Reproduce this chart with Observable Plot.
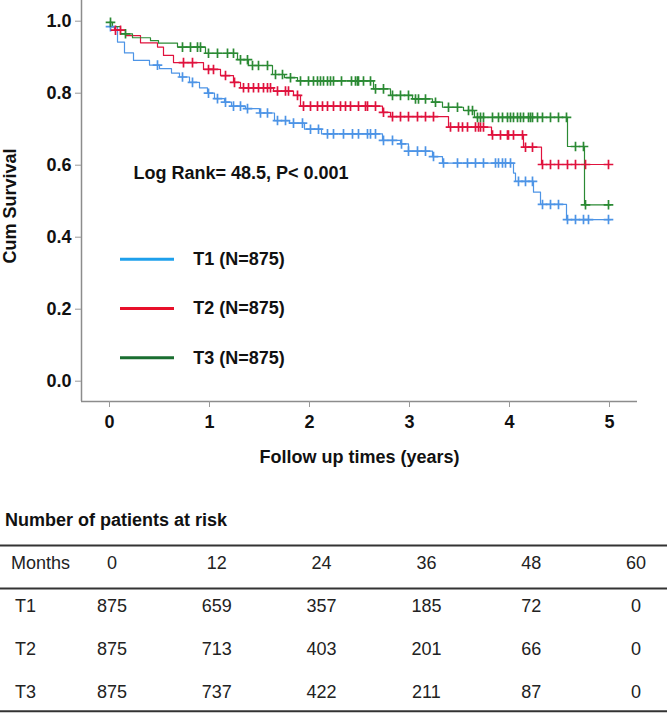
<!DOCTYPE html>
<html><head><meta charset="utf-8">
<script src="https://cdn.jsdelivr.net/npm/d3@7"></script>
<script src="https://cdn.jsdelivr.net/npm/@observablehq/plot@0.6"></script>
<style>
body{margin:0;background:#fff;font-family:"Liberation Sans",Arial,sans-serif;}
#chart svg,#table svg{display:block;}
</style></head><body>
<div id="chart"></div><div id="table"></div>
<script>
// ---------- data ----------
const groups = ["T1", "T2", "T3"];
const groupLabels = ["T1 (N=875)", "T2 (N=875)", "T3 (N=875)"];
const lineColors = ["#4d94e6", "#e0123d", "#2b8a34"];
const legendColors = ["#1ea0ec", "#e8102a", "#1a6e30"];

const endTime = 5.01;

const t1Times = [0, 0.08, 0.15, 0.24, 0.40, 0.50, 0.62, 0.70, 0.80, 0.90, 0.98, 1.05, 1.15, 1.22, 1.36, 1.50, 1.65, 1.80, 1.95, 2.12, 2.73, 2.91, 2.99, 3.23, 3.33, 4.04, 4.06, 4.24, 4.31, 4.57];
const t1Surv  = [0.985, 0.942, 0.912, 0.891, 0.878, 0.868, 0.856, 0.845, 0.830, 0.815, 0.800, 0.785, 0.775, 0.764, 0.757, 0.745, 0.724, 0.717, 0.700, 0.687, 0.669, 0.659, 0.639, 0.624, 0.606, 0.578, 0.555, 0.525, 0.491, 0.449];
const t1Censor = [0.01, 0.48, 0.73, 0.83, 0.99, 1.08, 1.16, 1.24, 1.31, 1.38, 1.51, 1.58, 1.68, 1.76, 1.84, 1.93, 2.01, 2.09, 2.18, 2.24, 2.34, 2.43, 2.49, 2.58, 2.61, 2.66, 2.74, 2.83, 2.92, 2.99, 3.08, 3.16, 3.24, 3.34, 3.48, 3.58, 3.66, 3.74, 3.86, 3.89, 3.93, 3.96, 4.01, 4.09, 4.16, 4.23, 4.33, 4.41, 4.49, 4.58, 4.66, 4.74, 4.79, 4.99];

const t2Times = [0, 0.05, 0.16, 0.31, 0.48, 0.54, 0.64, 0.94, 1.11, 1.24, 1.31, 1.64, 1.84, 1.91, 2.73, 2.81, 3.39, 3.82, 4.14, 4.32];
const t2Surv  = [0.985, 0.975, 0.960, 0.940, 0.928, 0.905, 0.885, 0.866, 0.849, 0.830, 0.815, 0.806, 0.794, 0.764, 0.747, 0.735, 0.706, 0.684, 0.650, 0.602];
const t2Censor = [0.06, 0.11, 0.74, 0.83, 0.99, 1.04, 1.16, 1.25, 1.34, 1.39, 1.44, 1.49, 1.54, 1.58, 1.61, 1.68, 1.76, 1.79, 1.88, 1.94, 2.01, 2.08, 2.13, 2.18, 2.24, 2.31, 2.36, 2.41, 2.49, 2.56, 2.58, 2.66, 2.74, 2.83, 2.91, 2.99, 3.08, 3.16, 3.24, 3.41, 3.49, 3.53, 3.58, 3.66, 3.69, 3.71, 3.74, 3.83, 3.91, 3.98, 3.99, 4.04, 4.13, 4.16, 4.23, 4.33, 4.41, 4.49, 4.58, 4.66, 4.76, 4.99];

const t3Times = [0, 0.03, 0.11, 0.23, 0.41, 0.49, 0.68, 0.96, 1.28, 1.39, 1.63, 1.75, 1.88, 2.64, 2.81, 3.03, 3.23, 3.33, 3.54, 3.65, 4.58, 4.75];
const t3Surv  = [0.997, 0.985, 0.965, 0.954, 0.946, 0.939, 0.928, 0.911, 0.893, 0.877, 0.852, 0.843, 0.834, 0.812, 0.794, 0.784, 0.775, 0.761, 0.752, 0.733, 0.652, 0.490];
const t3Censor = [0.01, 0.16, 0.73, 0.81, 0.88, 0.91, 0.99, 1.08, 1.18, 1.24, 1.31, 1.38, 1.43, 1.49, 1.58, 1.66, 1.73, 1.81, 1.91, 1.99, 2.04, 2.08, 2.11, 2.14, 2.18, 2.21, 2.24, 2.32, 2.42, 2.46, 2.48, 2.49, 2.54, 2.61, 2.66, 2.74, 2.83, 2.91, 2.99, 3.06, 3.09, 3.16, 3.26, 3.39, 3.48, 3.59, 3.63, 3.68, 3.71, 3.74, 3.83, 3.89, 3.93, 3.98, 4.01, 4.04, 4.08, 4.11, 4.14, 4.19, 4.21, 4.23, 4.28, 4.33, 4.41, 4.49, 4.57, 4.66, 4.74, 4.76, 4.99];

const xTicks = [0, 1, 2, 3, 4, 5];
const yTicks = [0, 0.2, 0.4, 0.6, 0.8, 1.0];
const xTitle = "Follow up times (years)";
const yTitle = "Cum Survival";
const logRankText = "Log Rank= 48.5, P< 0.001";

const riskTitle = "Number of patients at risk";
const riskHeader = "Months";
const riskMonths = [0, 12, 24, 36, 48, 60];
const riskT1 = [875, 659, 357, 185, 72, 0];
const riskT2 = [875, 713, 403, 201, 66, 0];
const riskT3 = [875, 737, 422, 211, 87, 0];

// ---------- layout ----------
const xDomain = [-0.28, 5.28];
const yDomain = [-0.0564, 1.0575];
const logRankPos = {x: 0.24, y: 0.577};
const legendX1 = 0.11, legendX2 = 0.65, legendTextX = 0.837;
const legendTop = 0.339, legendStep = 0.137;

// ---------- build tables ----------
const series = [
  {g: "T1", times: t1Times, surv: t1Surv, censor: t1Censor},
  {g: "T2", times: t2Times, surv: t2Surv, censor: t2Censor},
  {g: "T3", times: t3Times, surv: t3Surv, censor: t3Censor}
];
const survAt = (s, t) => s.surv[Math.max(0, d3.bisectRight(s.times, t) - 1)];
const stepRows = series.flatMap(s => [
  ...s.times.map((t, i) => ({group: s.g, t, s: s.surv[i]})),
  {group: s.g, t: endTime, s: s.surv[s.surv.length - 1]}
]);
const censorRows = series.flatMap(s => s.censor.map(t => ({group: s.g, t, s: survAt(s, t)})));

const font = '"Liberation Sans", Arial, sans-serif';

const legendMarks = groups.flatMap((g, i) => [
  Plot.ruleY([legendTop - i * legendStep], {x1: legendX1, x2: legendX2, stroke: legendColors[i], strokeWidth: 3}),
  Plot.text([groupLabels[i]], {x: legendTextX, y: legendTop - i * legendStep, textAnchor: "start", fontWeight: "bold", fontSize: 18, fill: "#111"})
]);

const chart = Plot.plot({
  width: 669, height: 470,
  marginLeft: 81, marginRight: 32, marginTop: 0, marginBottom: 69,
  style: {fontFamily: font, fontSize: "18px", fontWeight: "bold", color: "#111", background: "#fff"},
  x: {domain: xDomain},
  y: {domain: yDomain},
  color: {domain: groups, range: lineColors},
  marks: [
    Plot.ruleX([xDomain[0]], {stroke: "#8c8c8c", strokeWidth: 1.5}),
    Plot.ruleY([yDomain[0]], {stroke: "#8c8c8c", strokeWidth: 1.5}),
    Plot.axisX({ticks: xTicks, tickSize: 6, tickPadding: 8, stroke: "#999", label: null, tickFormat: d => String(d), fontSize: 18}),
    Plot.axisY({ticks: yTicks, tickSize: 6, tickPadding: 4, stroke: "#999", label: null, tickFormat: d3.format(".1f"), fontSize: 18}),
    Plot.line(stepRows, {x: "t", y: "s", z: "group", stroke: "group", curve: "step-after", strokeWidth: 1.2}),
    Plot.dot(censorRows, {x: "t", y: "s", stroke: "group", symbol: "plus", r: 3.2, strokeWidth: 1.7}),
    Plot.text([logRankText], {x: logRankPos.x, y: logRankPos.y, textAnchor: "start", fontWeight: "bold", fontSize: 18, fill: "#111"}),
    ...legendMarks,
    Plot.text([yTitle], {frameAnchor: "left", dx: -71, dy: 5, rotate: -90, fontWeight: "bold", fontSize: 18, fill: "#111", textAnchor: "middle", lineAnchor: "middle"}),
    Plot.text([xTitle], {frameAnchor: "bottom", dy: 56, fontWeight: "bold", fontSize: 18, fill: "#111", lineAnchor: "middle"})
  ]
});
document.getElementById("chart").append(chart);

// ---------- at-risk table ----------
const riskByGroup = {T1: riskT1, T2: riskT2, T3: riskT3};
const tableRows = [riskHeader, ...groups];
const cells = riskMonths.flatMap((m, j) => [
  {row: riskHeader, m, v: String(m)},
  ...groups.map(g => ({row: g, m, v: String(riskByGroup[g][j])}))
]);

const table = Plot.plot({
  width: 669, height: 246,
  marginLeft: 0, marginRight: 2, marginTop: 0, marginBottom: 0,
  style: {fontFamily: font, fontSize: "18px", color: "#222", background: "#fff"},
  x: {domain: [0, 60], range: [111.4, 635.6], axis: null},
  y: {type: "point", domain: tableRows, range: [92.3, 223.3], padding: 0, axis: null},
  marks: [
    Plot.text([riskTitle], {frameAnchor: "top-left", dx: 4.5, dy: 50, lineAnchor: "middle", textAnchor: "start", fontWeight: "bold", fontSize: 18, fill: "#111"}),
    Plot.ruleY([riskHeader], {dy: -18, stroke: "#333", strokeWidth: 2}),
    Plot.ruleY([riskHeader], {dy: 25, stroke: "#333", strokeWidth: 2}),
    Plot.ruleY([groups[groups.length - 1]], {dy: 18.7, stroke: "#333", strokeWidth: 2}),
    Plot.text([riskHeader], {y: d => d, frameAnchor: "left", dx: 10.5, text: d => d, textAnchor: "start", fontSize: 18, fill: "#222"}),
    Plot.text(groups, {y: d => d, frameAnchor: "left", dx: 14.5, text: d => d, textAnchor: "start", fontSize: 18, fill: "#222"}),
    Plot.text(cells, {x: "m", y: "row", text: "v", fontSize: 18, fill: "#222"})
  ]
});
document.getElementById("table").append(table);
</script>
</body></html>
